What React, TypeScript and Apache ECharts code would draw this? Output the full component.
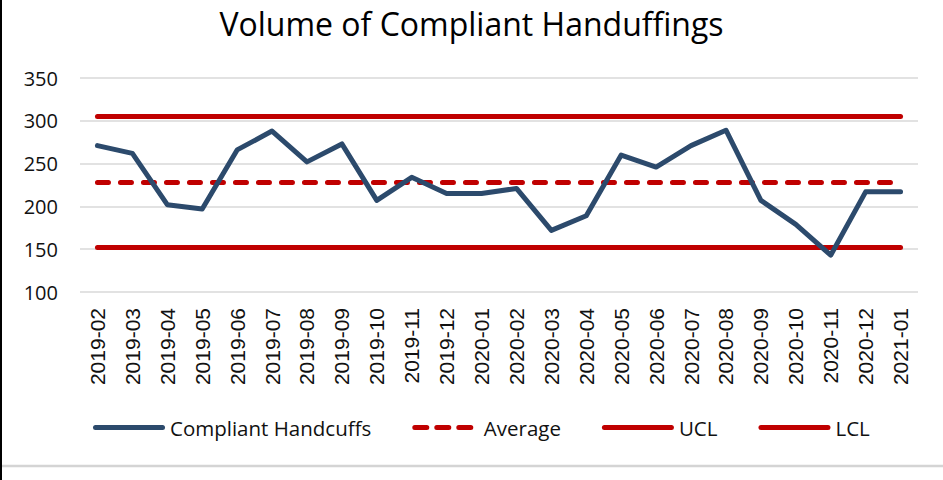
import React, { useEffect, useRef } from "react";
import * as echarts from "echarts";

const categories = [
  "2019-02", "2019-03", "2019-04", "2019-05", "2019-06", "2019-07", "2019-08", "2019-09",
  "2019-10", "2019-11", "2019-12", "2020-01", "2020-02", "2020-03", "2020-04", "2020-05",
  "2020-06", "2020-07", "2020-08", "2020-09", "2020-10", "2020-11", "2020-12", "2021-01",
];

const compliant = [
  271, 262, 202, 197, 266, 288, 252, 273,
  207, 234, 215, 215, 221, 172, 189, 260,
  246, 271, 289, 207, 179, 143, 217, 217,
];

const average = [
  228, 228, 228, 228, 228, 228, 228, 228,
  228, 228, 228, 228, 228, 228, 228, 228,
  228, 228, 228, 228, 228, 228, 228, 228,
];

const ucl = [
  305, 305, 305, 305, 305, 305, 305, 305,
  305, 305, 305, 305, 305, 305, 305, 305,
  305, 305, 305, 305, 305, 305, 305, 305,
];

const lcl = [
  152, 152, 152, 152, 152, 152, 152, 152,
  152, 152, 152, 152, 152, 152, 152, 152,
  152, 152, 152, 152, 152, 152, 152, 152,
];

const yMin = 100;
const yMax = 350;
const yInterval = 50;

const NAVY = "#2C4A6C";
const RED = "#C00000";

const SOLID_ICON =
  "path://M2.5,0 L69.5,0 A2.5,2.5 0 0 1 69.5,5 L2.5,5 A2.5,2.5 0 0 1 2.5,0 Z";
const DASH_ICON =
  "path://M2.5,0 L14.5,0 A2.5,2.5 0 0 1 14.5,5 L2.5,5 A2.5,2.5 0 0 1 2.5,0 Z " +
  "M24.5,0 L36.5,0 A2.5,2.5 0 0 1 36.5,5 L24.5,5 A2.5,2.5 0 0 1 24.5,0 Z " +
  "M46.5,0 L58.5,0 A2.5,2.5 0 0 1 58.5,5 L46.5,5 A2.5,2.5 0 0 1 46.5,0 Z";

export default function App() {
  const ref = useRef<HTMLDivElement>(null);

  useEffect(() => {
    document.body.style.margin = "0";
    const chart = echarts.init(ref.current!, undefined, { renderer: "svg" });
    const lineSeries = (name: string, data: number[], color: string, dashed: boolean, z: number) => ({
      name,
      type: "line",
      data,
      symbol: "none",
      showSymbol: false,
      z,
      lineStyle: {
        color,
        width: 5,
        type: dashed ? [11, 12] : "solid",
        cap: "round",
        join: "round",
      },
      itemStyle: { color },
    });
    chart.setOption({
      animation: false,
      backgroundColor: "#ffffff",
      title: {
        text: "Volume of Compliant Handuffings",
        left: "center",
        top: 2,
        textStyle: {
          fontFamily: "Open Sans",
          fontSize: 32,
          fontWeight: "normal",
          color: "#000000",
        },
      },
      legend: {
        top: 412,
        left: 88,
        itemWidth: 72,
        itemHeight: 5,
        itemGap: 41,
        symbolKeepAspect: true,
        textStyle: {
          fontFamily: "Open Sans",
          fontSize: 20.5,
          color: "#111111",
        },
        data: [
          { name: "Compliant Handcuffs", icon: SOLID_ICON },
          { name: "Average", icon: DASH_ICON },
          { name: "UCL", icon: SOLID_ICON },
          { name: "LCL", icon: SOLID_ICON },
        ],
      },
      grid: { left: 80, right: 25, top: 78, bottom: 188 },
      xAxis: {
        type: "category",
        data: categories,
        boundaryGap: true,
        axisLine: { show: false },
        axisTick: { show: false },
        axisLabel: {
          rotate: 90,
          margin: 16,
          fontFamily: "Liberation Sans",
          fontSize: 21,
          color: "#111111",
          interval: 0,
        },
      },
      yAxis: {
        type: "value",
        min: yMin,
        max: yMax,
        interval: yInterval,
        axisLine: { show: false },
        axisTick: { show: false },
        splitLine: { lineStyle: { color: "#D9D9D9", width: 1.5 } },
        axisLabel: {
          margin: 22,
          fontFamily: "Open Sans",
          fontSize: 20,
          color: "#111111",
        },
      },
      graphic: [
        { type: "line", shape: { x1: 1, y1: 0, x2: 1, y2: 480 }, style: { stroke: "#000000", lineWidth: 2 } },
        { type: "line", shape: { x1: 2, y1: 466, x2: 943, y2: 466 }, style: { stroke: "#D4D4D4", lineWidth: 2.5 } },
      ],
      series: [
        lineSeries("UCL", ucl, RED, false, 2),
        lineSeries("LCL", lcl, RED, false, 2),
        lineSeries("Average", average, RED, true, 2),
        lineSeries("Compliant Handcuffs", compliant, NAVY, false, 3),
      ],
    });
    return () => chart.dispose();
  }, []);

  return (
    <div
      ref={ref}
      style={{ position: "absolute", left: 0, top: 0, width: 943, height: 480 }}
    />
  );
}
